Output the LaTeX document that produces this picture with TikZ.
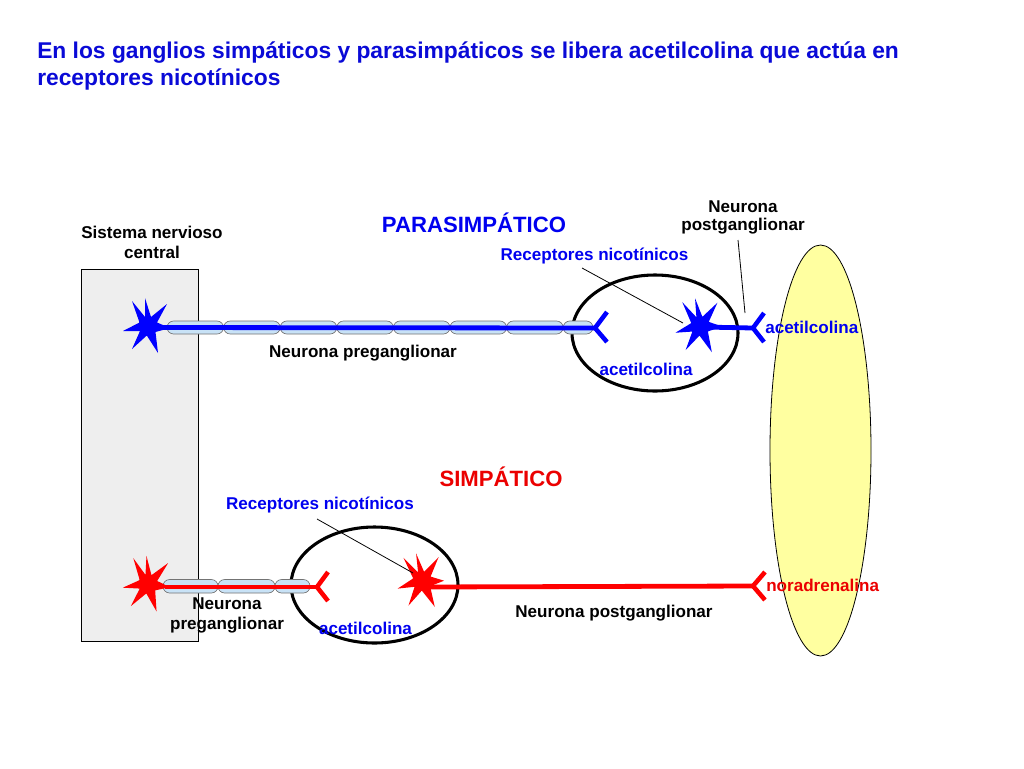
\documentclass[tikz,border=0pt]{standalone}
\usepackage{fontspec}
\setmainfont{Liberation Sans}
\definecolor{tblue}{RGB}{10,10,215}
\definecolor{lblue}{RGB}{0,0,240}
\definecolor{nblue}{RGB}{0,0,255}
\definecolor{nred}{RGB}{255,0,0}
\definecolor{lred}{RGB}{235,0,0}
\definecolor{myelin}{RGB}{200,226,246}
\definecolor{cnsgray}{RGB}{238,238,238}
\definecolor{organ}{RGB}{255,255,160}
\tikzset{
  lbl/.style={font=\bfseries\fontsize{12.8}{15}\selectfont, inner sep=0, anchor=base},
  head/.style={font=\bfseries\fontsize{16.6}{20}\selectfont, inner sep=0, anchor=base},
  ttl/.style={font=\bfseries\fontsize{17.1}{20}\selectfont, inner sep=0, anchor=base west, text=tblue},
  myel/.style={draw=black!55, fill=myelin, rounded corners=5pt, line width=0.5pt},
  axon/.style={line width=3.6pt},
  forkline/.style={line width=3.4pt},
  ganglion/.style={draw=black, line width=2.3pt},
  pointer/.style={draw=black, line width=0.6pt},
  pics/neuron/.style={code={
    \fill (-3,-28) -- (3,-9) -- (19,-22) -- (9,-3.5) -- (22,2) -- (7.5,6)
      -- (10,27) -- (-1.2,9.5) -- (-16,23) -- (-8,5) -- (-25,5) -- (-8.5,-3.5)
      -- (-16,-25) -- (-3,-9) -- cycle;
    \fill (0,0) circle (9.5);
  }},
}
\begin{document}
\begin{tikzpicture}[x=0.75pt,y=-0.75pt]
\useasboundingbox (0,0) rectangle (1024,768);
\fill[white] (0,0) rectangle (1024,768);

% title
\node[ttl] (t1) at (37,58) {En los ganglios simpáticos y parasimpáticos se libera acetilcolina que actúa en};
\node[ttl] (t2) at (37,85) {receptores nicotínicos};

% effector organ and CNS
\filldraw[fill=organ, draw=black, line width=0.6pt] (820.5,450.5) ellipse [x radius=50.5, y radius=205.5];
\filldraw[fill=cnsgray, draw=black, line width=0.6pt] (81,269) rectangle (198,641);
\node[lbl] (snc1) at (152,238) {Sistema nervioso};
\node[lbl] (snc2) at (152,258) {central};

% headings
\node[head, text=lblue] (para) at (474,232) {PARASIMPÁTICO};
\node[head, text=lred] (simp) at (501,486) {SIMPÁTICO};

% ganglia
\draw[ganglion] (655,333) ellipse [x radius=83, y radius=58];
\draw[ganglion] (374.5,585) ellipse [x radius=83.5, y radius=58];

% ---- parasympathetic pathway ----
\foreach \a/\b in {167/223.6,223.6/280.2,280.2/336.8,336.8/393.4,393.4/450,450/506.6,506.6/563.2,563.2/593}
  \draw[myel] (\a,321) rectangle (\b,334);
\coordinate (pfork) at (595,328);
\draw[axon, nblue] (150,327.5) -- (pfork);
\draw[forkline, nblue, line join=miter] (607,312) -- (pfork) -- (607,342);
\pic[nblue] (npre) at (148,326) {neuron};
\coordinate (pofork) at (753,328);
\pic[nblue, rotate=4] (npost) at (700,326) {neuron};
\draw[axon, nblue] (702,327) -- (pofork);
\draw[forkline, nblue] (764,313) -- (pofork) -- (764,342);

\node[lbl] (pren) at (363,357) {Neurona preganglionar};
\node[lbl, text=lblue] (ach1) at (646,375) {acetilcolina};
\node[lbl, text=lblue, anchor=base west] (ach2) at (765,333) {acetilcolina};
\node[lbl, text=lblue] (rec1) at (594.5,260) {Receptores nicotínicos};
\node[lbl] (postn1) at (743,212) {Neurona};
\node[lbl] (postn2) at (743,230) {postganglionar};
\coordinate (rec1a) at (582,268);
\coordinate (rec1b) at (683,323);
\draw[pointer] (rec1a) -- (rec1b);
\coordinate (post1a) at (738,240);
\coordinate (post1b) at (745,313);
\draw[pointer] (post1a) -- (post1b);

% ---- sympathetic pathway ----
\foreach \a/\b in {163/218,218/275,275/310}
  \draw[myel] (\a,579.5) rectangle (\b,593);
\coordinate (sfork) at (317,587);
\draw[axon, nred] (165,587) -- (sfork);
\draw[forkline, nred] (328,572) -- (sfork) -- (328,601);
\pic[nred, rotate=-3] (spre) at (148,584) {neuron};
\coordinate (sofork) at (753,586);
\pic[nred, rotate=6] (spost) at (422,581) {neuron};
\draw[axon, nred] (424,587) -- (sofork);
\draw[forkline, nred] (765,572) -- (sofork) -- (765,600);

\node[lbl] (spren1) at (227,609) {Neurona};
\node[lbl] (spren2) at (227,629) {preganglionar};
\node[lbl, text=lblue] (ach3) at (365.5,634) {acetilcolina};
\node[lbl] (spost) at (614,617) {Neurona postganglionar};
\node[lbl, text=lred, anchor=base west] (nor) at (766,591) {noradrenalina};
\node[lbl, text=lblue] (rec2) at (320,509) {Receptores nicotínicos};
\coordinate (rec2a) at (317,519);
\coordinate (rec2b) at (413,573);
\draw[pointer] (rec2a) -- (rec2b);
\end{tikzpicture}
\end{document}
